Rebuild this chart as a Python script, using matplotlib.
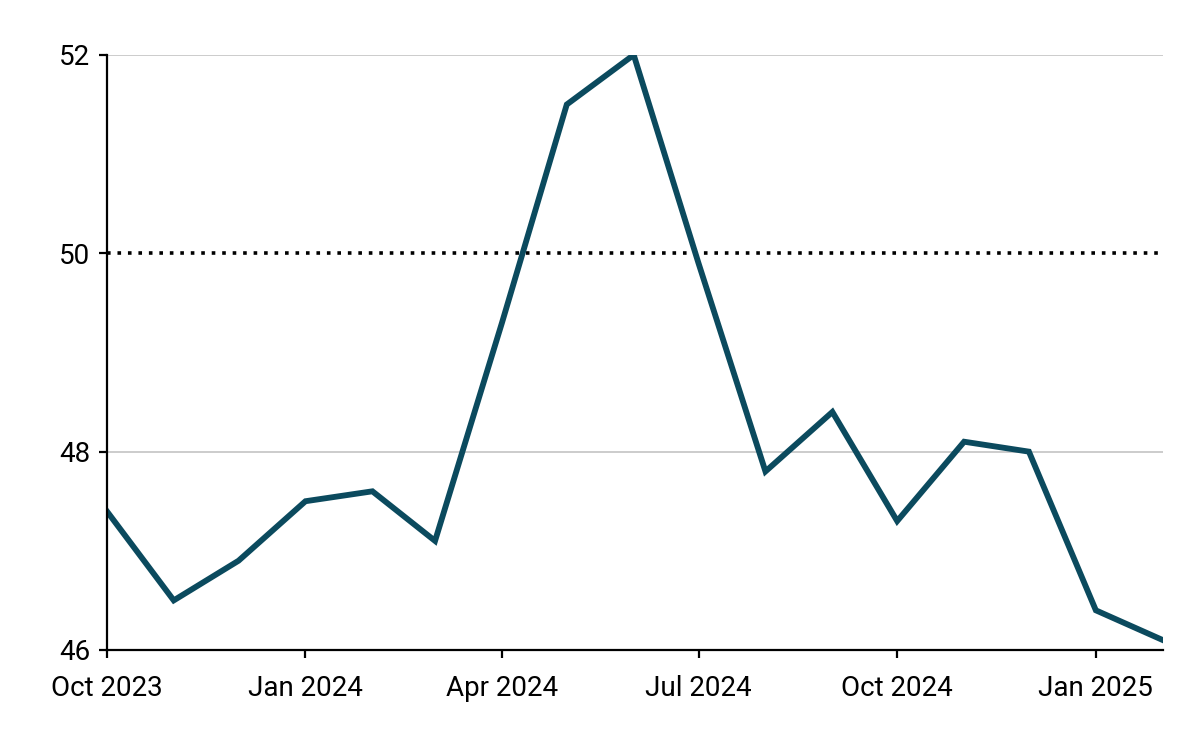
import numpy as np
import pandas as pd

import matplotlib
matplotlib.use("Agg")
import matplotlib.pyplot as plt
import matplotlib.dates as mdates

plt.rcParams["font.family"] = ["Roboto", "DejaVu Sans"]

MONTHS = pd.date_range("2023-10-01", "2025-02-01", freq="MS")
VALUES = [47.4, 46.5, 46.9, 47.5, 47.6, 47.1, 49.3, 51.5, 52.0,
          49.9, 47.8, 48.4, 47.3, 48.1, 48.0, 46.4, 46.1]
Y_TICKS = [46, 48, 50, 52]
REF_LEVEL = 50

LINE_COLOR = "#0b4a5e"


def main():
    fig = plt.figure(figsize=(12, 7.42), dpi=100)
    ax = fig.add_axes([0.089, 0.124, 0.88, 0.802])

    for y in Y_TICKS:
        if y != REF_LEVEL:
            ax.axhline(y, color="#c8c8c8", lw=1.3, zorder=1)
    ax.axhline(REF_LEVEL, color="black", lw=2.6, ls=(0, (1, 1.9)), zorder=2)

    ax.plot(MONTHS, VALUES, color=LINE_COLOR, lw=4.2, zorder=3,
            solid_joinstyle="miter")

    ax.set_xlim(MONTHS[0], MONTHS[-1])
    ax.set_ylim(46, 52)
    ax.set_yticks(Y_TICKS)
    ax.xaxis.set_major_locator(mdates.MonthLocator(bymonth=[1, 4, 7, 10]))
    ax.xaxis.set_major_formatter(mdates.DateFormatter("%b %Y"))

    for s in ["top", "right"]:
        ax.spines[s].set_visible(False)
    for s in ["left", "bottom"]:
        ax.spines[s].set_linewidth(1.6)
        ax.spines[s].set_color("black")
        ax.spines[s].set_zorder(4)

    ax.tick_params(axis="both", labelsize=20, width=1.6, length=6,
                   colors="black")
    ax.tick_params(axis="x", pad=12)
    ax.tick_params(axis="y", pad=6)

    fig.savefig("out.png", dpi=100)


if __name__ == "__main__":
    main()
